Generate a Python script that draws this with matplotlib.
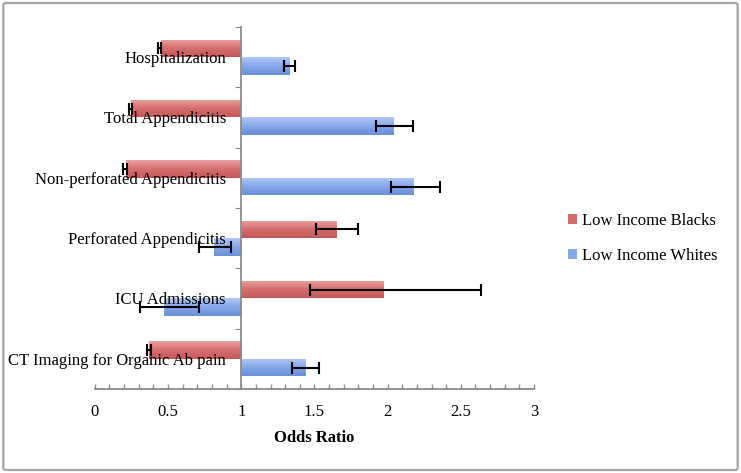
import matplotlib
matplotlib.use("Agg")
import matplotlib.pyplot as plt
import numpy as np
from matplotlib.colors import LinearSegmentedColormap
from matplotlib.patches import FancyBboxPatch

# data, top category first
categories = ["Hospitalization", "Total Appendicitis", "Non-perforated Appendicitis",
              "Perforated Appendicitis", "ICU Admissions", "CT Imaging for Organic Ab pain"]
blacks_or = [0.45, 0.25, 0.21, 1.65, 1.97, 0.37]
blacks_lo = [0.43, 0.235, 0.195, 1.51, 1.47, 0.355]
blacks_hi = [0.455, 0.255, 0.22, 1.80, 2.64, 0.385]
whites_or = [1.33, 2.04, 2.18, 0.815, 0.47, 1.44]
whites_lo = [1.29, 1.92, 2.02, 0.71, 0.31, 1.35]
whites_hi = [1.37, 2.17, 2.36, 0.93, 0.71, 1.53]
series_names = ["Low Income Blacks", "Low Income Whites"]
xticks = [0, 0.5, 1, 1.5, 2, 2.5, 3]
xtick_labels = ['0', '0.5', '1', '1.5', '2', '2.5', '3']

plt.rcParams['font.family'] = ['Liberation Serif', 'DejaVu Serif']

fig = plt.figure(figsize=(7.41, 4.73), dpi=100)
ax = fig.add_axes([0.128, 0.1776, 0.5927, 0.7654])

n = len(categories)
ypos = np.arange(n)[::-1]
h = 0.29
off = 0.145

red_cmap = LinearSegmentedColormap.from_list('r', ['#eba0a0', '#d66f6f', '#c45858'])
blue_cmap = LinearSegmentedColormap.from_list('b', ['#b0c9f6', '#86a7ea', '#6a90d8'])
grad = np.linspace(0, 1, 64).reshape(-1, 1)

series = [
    (blacks_or, blacks_lo, blacks_hi, off, red_cmap, '#d46d6d'),
    (whites_or, whites_lo, whites_hi, -off, blue_cmap, '#86a7e8'),
]
handles = []
for vals, lo, hi, dy, cmap, col in series:
    vals = np.array(vals)
    bars = ax.barh(ypos + dy, vals - 1, left=1, height=h, color=col, edgecolor='none', zorder=1)
    handles.append(bars)
    for b in bars:
        x0, y0 = b.get_x(), b.get_y()
        x1, y1 = x0 + b.get_width(), y0 + b.get_height()
        im = ax.imshow(grad, cmap=cmap, extent=(min(x0, x1), max(x0, x1), y0, y1),
                       aspect='auto', origin='upper', zorder=1.5)
        im.set_clip_path(b)
    err = [vals - np.array(lo), np.array(hi) - vals]
    ax.errorbar(vals, ypos + dy, xerr=err, fmt='none', ecolor='black',
                elinewidth=1.5, capsize=4, capthick=1.5, zorder=4)

ax.set_xlim(0, 3)
ax.set_ylim(-0.5, n - 0.5)

for s in ['top', 'right']:
    ax.spines[s].set_visible(False)
ax.spines['left'].set_position(('data', 1))
for s in ['left', 'bottom']:
    ax.spines[s].set_color('#8c8c8c')
    ax.spines[s].set_linewidth(1.3)

ax.set_yticks(np.arange(-0.5, n, 1.0))
ax.set_yticklabels([])
ax.set_yticks(ypos, minor=True)
ax.set_yticklabels(categories, minor=True)
ax.tick_params(axis='y', which='major', direction='out', length=4, color='#8c8c8c')
ax.tick_params(axis='y', which='minor', length=0, pad=11, labelsize=12)
for t in ax.get_yticklabels(minor=True):
    t.set_zorder(3)

ax.set_xticks(xticks)
ax.set_xticklabels(xtick_labels)
ax.set_xticks(np.arange(0, 3.01, 0.1), minor=True)
ax.tick_params(axis='x', which='both', direction='in', length=3.5, color='#8c8c8c', width=1)
ax.tick_params(axis='x', which='major', pad=11, labelsize=12)
ax.set_xlabel('Odds Ratio', fontsize=12, fontweight='bold', labelpad=7)

ax.legend(handles, series_names, loc='center left', bbox_to_anchor=(0.7665, 0.496),
          bbox_transform=fig.transFigure, frameon=False, fontsize=12,
          handlelength=0.55, handleheight=0.55, handletextpad=0.3, labelspacing=1.1,
          borderpad=0, borderaxespad=0)

frame = FancyBboxPatch((0.0045, 0.0063), 0.991, 0.9874, boxstyle='round,pad=0,rounding_size=0.004',
                       transform=fig.transFigure, facecolor='none', edgecolor='#a6a6a6', linewidth=1.6)
fig.add_artist(frame)

fig.savefig('out.png', dpi=100)
